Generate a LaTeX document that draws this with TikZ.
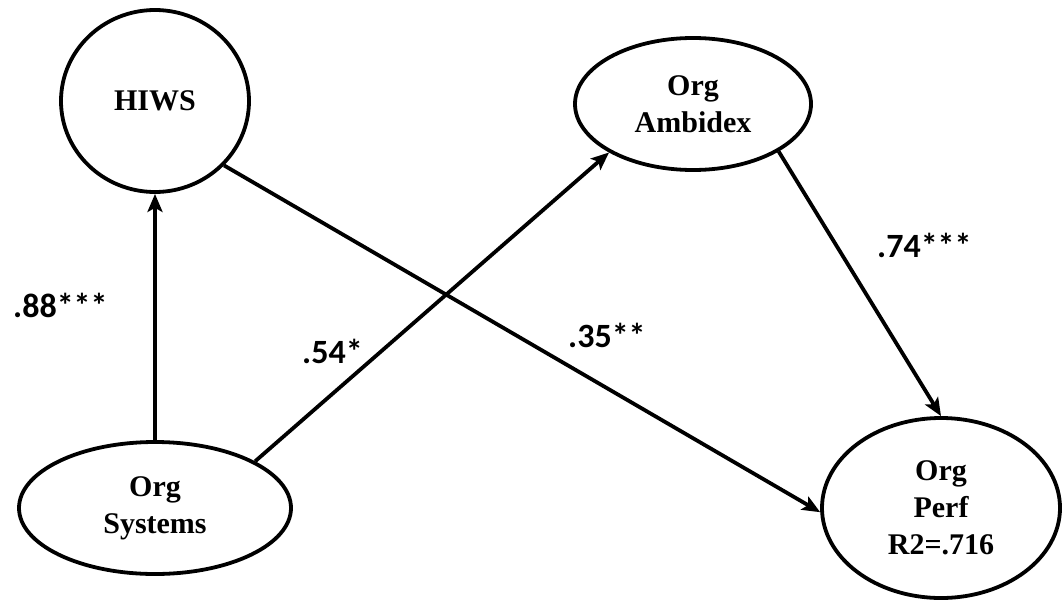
\documentclass[tikz,border=0pt]{standalone}
\usepackage{fontspec}
\setmainfont{Liberation Serif}
\newfontfamily\labelfont{Carlito}
\usetikzlibrary{shapes.geometric,arrows.meta}

\begin{document}
\begin{tikzpicture}[x=1pt,y=-1pt,
  construct/.style={draw, ellipse, line width=3.8pt, inner sep=0pt,
    align=center, font=\fontsize{30}{37}\selectfont\bfseries},
  path/.style={line width=3.8pt, -{Stealth[length=18pt,width=15pt,inset=4pt]}},
  coef/.style={inner sep=0pt, anchor=base west,
    font=\labelfont\fontsize{34}{40}\selectfont\bfseries}]
  \useasboundingbox (0,0) rectangle (1062,602);

  % latent constructs
  \node[construct, minimum width=188pt, minimum height=182pt] (hiws) at (155,101) {HIWS};
  \node[construct, minimum width=236pt, minimum height=132pt] (amb) at (693,104) {Org\\Ambidex};
  \node[construct, minimum width=272pt, minimum height=132pt] (sys) at (155,508) {Org\\Systems};
  \node[construct, minimum width=238pt, minimum height=180pt] (perf) at (941,508) {Org\\Perf\\R2=.716};

  % structural paths
  \draw[path] (sys.north) -- (hiws.south);
  \draw[path] (sys.25) -- (amb.210);
  \draw[path] (hiws.-43) -- (perf.182);
  \draw[path] (amb.-29.5) -- (perf.north);

  % path coefficients
  \node[coef] (c1) at (13,317) {.88***};
  \node[coef] (c2) at (302,363) {.54*};
  \node[coef] (c3) at (568,347) {.35**};
  \node[coef] (c4) at (877,257) {.74***};
\end{tikzpicture}
\end{document}
